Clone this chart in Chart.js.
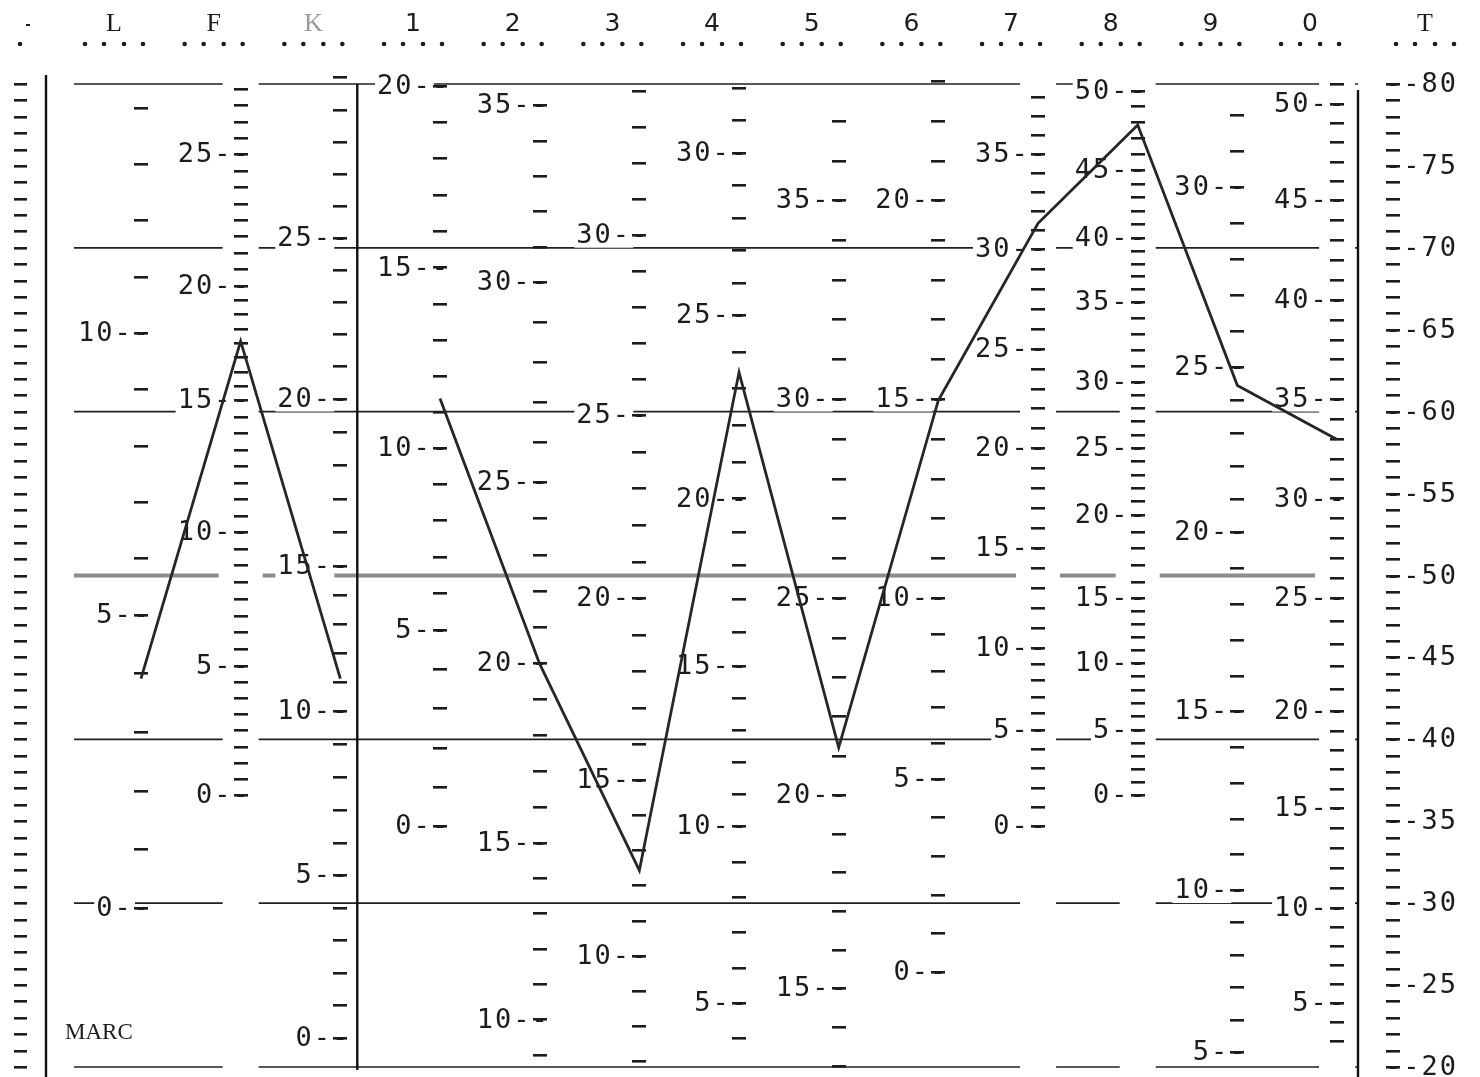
<!DOCTYPE html>
<html>
<head>
<meta charset="utf-8">
<script src="https://cdn.jsdelivr.net/npm/chart.js@4.4.0/dist/chart.umd.min.js"></script>
<style>
  html, body { margin: 0; background: #fff; }
  canvas { display: block; }
</style>
</head>
<body>
<canvas id="profile" width="1480" height="1077"></canvas>
<script>
// profile sheet: T scores on the right, one raw-score ruler per scale
const validityNames = ["L", "F", "K"];
const clinicalNames = ["1", "2", "3", "4", "5", "6", "7", "8", "9", "0"];
const validityT = [43.7, 64.3, 43.7];
const clinicalT = [60.8, 44.6, 32.0, 62.4, 39.5, 60.7, 71.5, 77.5, 61.6, 58.3];

const tLabels = [80, 75, 70, 65, 60, 55, 50, 45, 40, 35, 30, 25, 20];
const gridT = [80, 70, 60, 50, 40, 30, 20];

// labelled raw scores of each ruler and the T score they sit on
const rawL = [0, 5, 10];
const tL = [29.7, 47.6, 64.8];
const rawF = [0, 5, 10, 15, 20, 25];
const tF = [36.6, 44.5, 52.65, 60.7, 67.7, 75.7];
const rawK = [0, 5, 10, 15, 20, 25];
const tK = [21.8, 31.7, 41.7, 50.6, 60.8, 70.6];
const raw1 = [0, 5, 10, 15, 20];
const t1 = [34.7, 46.7, 57.8, 68.8, 79.9];
const raw2 = [10, 15, 20, 25, 30, 35];
const t2 = [22.9, 33.7, 44.65, 55.7, 67.9, 78.7];
const raw3 = [10, 15, 20, 25, 30];
const t3 = [26.8, 37.5, 48.6, 59.8, 70.8];
const raw4 = [5, 10, 15, 20, 25, 30];
const t4 = [23.9, 34.7, 44.5, 54.7, 65.9, 75.8];
const raw5 = [15, 20, 25, 30, 35];
const t5 = [24.8, 36.6, 48.6, 60.8, 72.9];
const raw6 = [0, 5, 10, 15, 20];
const t6 = [25.8, 37.6, 48.6, 60.8, 72.9];
const raw7 = [0, 5, 10, 15, 20, 25, 30, 35];
const t7 = [34.7, 40.6, 45.6, 51.7, 57.8, 63.8, 69.9, 75.7];
const raw8 = [0, 5, 10, 15, 20, 25, 30, 35, 40, 45, 50];
const t8 = [36.6, 40.6, 44.65, 48.6, 53.7, 57.8, 61.8, 66.7, 70.6, 74.75, 79.6];
const raw9 = [5, 10, 15, 20, 25, 30];
const t9 = [20.9, 30.8, 41.7, 52.65, 62.7, 73.7];
const raw0 = [5, 10, 15, 20, 25, 30, 35, 40, 45, 50];
const t0 = [23.9, 29.7, 35.8, 41.7, 48.6, 54.7, 60.8, 66.8, 72.9, 78.8];

// tick range (raw) of each ruler
const tickFrom = [0, 0, 0, 0, 9, 7, 3, 13, 0, 0, 0, 4, 3];
const tickTo = [14, 28, 30, 20, 36, 34, 32, 37, 23, 38, 51, 32, 51];
const tickStep = [1, 0.625, 1, 1, 1, 1, 1, 1, 1, 1, 1, 1, 1];

const rulers = [
  [rawL, tL], [rawF, tF], [rawK, tK], [raw1, t1], [raw2, t2], [raw3, t3], [raw4, t4],
  [raw5, t5], [raw6, t6], [raw7, t7], [raw8, t8], [raw9, t9], [raw0, t0],
];
const headers = validityNames.concat(clinicalNames);

const monoFont = '27px "DejaVu Sans Mono"';
const ink = "#1c1c1c";

function rawToT(r, raws, ts) {
  let i = 0;
  while (i < raws.length - 2 && r > raws[i + 1]) i++;
  const f = (r - raws[i]) / (raws[i + 1] - raws[i]);
  return ts[i] + f * (ts[i + 1] - ts[i]);
}

function dash(ctx, x, y, w) {
  ctx.fillRect(Math.round(x - w / 2), Math.round(y - 1), w, 2.6);
}

const sheet = {
  id: "sheet",
  beforeDatasetsDraw(chart) {
    const { ctx, chartArea: a } = chart;
    const xs = chart.scales.x;
    const ys = chart.scales.y;
    const colX = headers.map((_, i) => xs.getPixelForValue(i));
    const sepX = xs.getPixelForValue(2.17);
    const leftRulerX = a.left - 26;
    const tRulerX = a.right + 35;
    // rulers with closely packed ticks break the guide lines
    const dense = rulers.map(([raws, ts], i) => {
      const span = Math.abs(ys.getPixelForValue(rawToT(tickFrom[i], raws, ts)) -
        ys.getPixelForValue(rawToT(tickTo[i], raws, ts)));
      return span / ((tickTo[i] - tickFrom[i]) / tickStep[i]) < 22;
    });
    ctx.save();

    gridT.forEach((t) => {
      const y = ys.getPixelForValue(t);
      const thick = t === 50;
      ctx.strokeStyle = thick ? "#8c8c8c" : "#202020";
      ctx.lineWidth = thick ? 4 : 1.6;
      const half = thick ? 22 : 18;
      const stops = [];
      colX.forEach((x, i) => { if (dense[i]) stops.push([x - half, x + half]); });
      stops.push([a.right, a.right]);
      let start = a.left + 28;
      ctx.beginPath();
      stops.forEach(([g0, g1]) => {
        if (g0 > start) {
          ctx.moveTo(start, y);
          ctx.lineTo(g0, y);
        }
        start = Math.max(start, g1);
      });
      ctx.stroke();
    });

    // raw-score labels, white behind so the guide lines break
    ctx.font = monoFont;
    ctx.letterSpacing = "2px";
    ctx.textBaseline = "middle";
    ctx.textAlign = "right";
    rulers.forEach(([raws, ts], i) => {
      raws.forEach((r, k) => {
        const y = ys.getPixelForValue(ts[k]);
        const txt = r + "--";
        const w = ctx.measureText(txt).width;
        const right = colX[i] + 10;
        ctx.fillStyle = "#fff";
        ctx.fillRect(right - w - 2, y - 13, w - 14, 26);
        ctx.fillStyle = ink;
        ctx.fillText(txt, right, y + 1);
      });
    });

    // ruler ticks
    ctx.fillStyle = ink;
    rulers.forEach(([raws, ts], i) => {
      for (let r = tickFrom[i]; r <= tickTo[i] + 1e-6; r += tickStep[i]) {
        const t = rawToT(r, raws, ts);
        if (t < 19.6 || t > 80.4) continue;
        dash(ctx, colX[i], ys.getPixelForValue(t), 14);
      }
    });
    for (let t = 20; t <= 80; t++) {
      dash(ctx, leftRulerX, ys.getPixelForValue(t), 13);
      dash(ctx, tRulerX, ys.getPixelForValue(t), 14);
    }

    // T labels
    ctx.textAlign = "left";
    tLabels.forEach((t) => {
      ctx.fillText("--" + t, tRulerX - 8, ys.getPixelForValue(t) + 1);
    });

    // frame
    ctx.strokeStyle = "#111";
    ctx.lineWidth = 2.4;
    ctx.beginPath();
    ctx.moveTo(a.left, a.top - 9);
    ctx.lineTo(a.left, a.bottom + 10);
    ctx.moveTo(sepX, a.top);
    ctx.lineTo(sepX, a.bottom + 3);
    ctx.moveTo(a.right, a.top + 6);
    ctx.lineTo(a.right, a.bottom + 10);
    ctx.stroke();

    // header row
    ctx.letterSpacing = "0px";
    ctx.textAlign = "center";
    ctx.textBaseline = "alphabetic";
    const heads = headers.map((h, i) => [h, colX[i] - 27]);
    heads.push(["T", tRulerX + 32]);
    heads.forEach(([h, hx]) => {
      const serif = isNaN(Number(h));
      ctx.font = serif ? '26px "Liberation Serif"' : '25px "DejaVu Sans"';
      ctx.fillStyle = h === "K" ? "#9a9a9a" : ink;
      ctx.fillText(h, hx, 31);
      ctx.fillStyle = ink;
      [-29, -10, 10, 29].forEach((d) => {
        ctx.beginPath();
        ctx.arc(hx + d, 44, 2.3, 0, Math.PI * 2);
        ctx.fill();
      });
    });
    ctx.beginPath();
    ctx.arc(leftRulerX, 44, 2.3, 0, Math.PI * 2);
    ctx.fill();
    ctx.fillRect(leftRulerX + 6, 24, 4, 2);

    ctx.font = '23px "Liberation Serif"';
    ctx.textAlign = "left";
    ctx.textBaseline = "middle";
    ctx.fillText("MARC", a.left + 19, 1033);
    ctx.restore();
  },
};

const lineStyle = {
  borderColor: "#262626",
  borderWidth: 2.8,
  pointRadius: 0,
  tension: 0,
  fill: false,
};

new Chart(document.getElementById("profile"), {
  type: "line",
  data: {
    datasets: [
      Object.assign({ label: "validity", data: validityT.map((t, i) => ({ x: i, y: t })) }, lineStyle),
      Object.assign({ label: "clinical", data: clinicalT.map((t, i) => ({ x: i + 3, y: t })) }, lineStyle),
    ],
  },
  options: {
    responsive: false,
    animation: false,
    events: [],
    layout: { padding: { left: 46, right: 122, top: 84, bottom: 10 } },
    scales: {
      x: { type: "linear", min: -0.953, max: 12.21, display: false },
      y: { type: "linear", min: 20, max: 80, display: false },
    },
    plugins: { legend: { display: false }, tooltip: { enabled: false } },
  },
  plugins: [sheet],
});
</script>
</body>
</html>
